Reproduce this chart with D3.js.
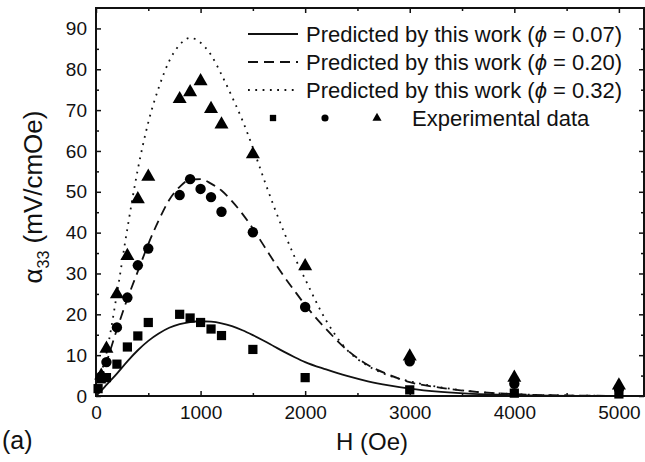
<!DOCTYPE html>
<html>
<head>
<meta charset="utf-8">
<script src="https://cdn.jsdelivr.net/npm/d3@7"></script>
<style>
  body { margin: 0; background: #fff; }
  text { font-family: "Liberation Sans", Arial, sans-serif; fill: #111; }
</style>
</head>
<body>
<div id="chart"></div>
<script>
// data
const fieldH = [50, 100, 200, 300, 400, 500, 800, 900, 1000, 1100, 1200, 1500, 2000, 3000, 4000, 5000];
const expSquare = [4.2, 4.5, 7.8, 12.0, 14.7, 18.0, 20.0, 19.1, 18.0, 16.4, 14.8, 11.4, 4.5, 1.5, 0.7, 0.5];
const expCircle = [4.8, 8.3, 16.8, 24.1, 32.0, 36.1, 49.2, 53.1, 50.7, 48.7, 45.1, 40.1, 21.8, 8.5, 3.0, 1.8];
const expTriangle = [5.0, 11.6, 24.9, 34.3, 48.2, 53.7, 72.7, 74.4, 77.1, 70.3, 66.5, 59.2, 31.8, 9.7, 4.5, 2.6];
const extraSquareH = [20];
const extraSquare = [1.8];

const curveH = [0, 50, 100, 200, 300, 400, 500, 600, 700, 800, 900, 1000, 1100, 1200, 1300, 1400, 1500, 1600, 1700, 1800, 1900, 2000, 2200, 2400, 2600, 2800, 3000, 3300, 3600, 4000, 4500, 5000, 5240];
const pred007 = [0, 1.3, 2.7, 5.5, 8.5, 11.2, 13.5, 15.3, 16.7, 17.6, 18.1, 18.3, 18.2, 17.8, 17.1, 16.1, 14.9, 13.6, 12.2, 10.8, 9.5, 8.3, 6.5, 4.9, 3.6, 2.6, 1.8, 1.0, 0.5, 0.2, 0.05, 0.01, 0];
const pred020 = [0, 4.2, 8.2, 16.3, 23.8, 30.5, 37.2, 43, 48, 51.2, 53, 53.1, 52, 50.3, 47.7, 44.6, 41, 37, 33, 29.2, 25.7, 22.3, 16.4, 11.3, 7.6, 5.2, 3.4, 2.0, 1.1, 0.45, 0.12, 0.03, 0];
const pred032 = [0, 5.5, 10.5, 25, 41, 55.5, 67, 75.5, 82, 86, 87.7, 86.5, 83.5, 78.7, 73.3, 67.5, 60.8, 53.5, 46.5, 40, 34, 28.6, 18.5, 11.3, 7.4, 5, 3.6, 2.1, 1.1, 0.45, 0.12, 0.03, 0];

const xTicks = [0, 1000, 2000, 3000, 4000, 5000];
const yTicks = [0, 10, 20, 30, 40, 50, 60, 70, 80, 90];
const legendLabels = ['0.07', '0.20', '0.32'];

const W = 645, Hgt = 462;
const margin = {top: 8, right: 1, bottom: 66, left: 96},
    width = W - margin.left - margin.right,
    height = Hgt - margin.top - margin.bottom;

const svg = d3.select('#chart').append('svg')
    .attr('width', W).attr('height', Hgt)
  .append('g')
    .attr('transform', `translate(${margin.left},${margin.top})`);

const x = d3.scaleLinear().domain([0, 5240]).range([0, width]);
const y = d3.scaleLinear().domain([0, 95]).range([height, 0]);

// ticks, all pointing inward
function ticks(axis, vals, len) {
  return axis.tickValues(vals).tickSizeInner(-len).tickSizeOuter(0);
}
const xMinor = d3.range(500, 5240, 1000);
const yMinor = d3.range(5, 95, 10);

svg.append('g').attr('transform', `translate(0,${height})`)
  .call(ticks(d3.axisBottom(x), xTicks, 5).tickPadding(10).tickFormat(d3.format('d')));
svg.append('g').attr('transform', `translate(0,${height})`)
  .call(ticks(d3.axisBottom(x), xMinor, 3).tickFormat(''));
svg.append('g').call(ticks(d3.axisTop(x), xTicks, 5).tickFormat(''));
svg.append('g').call(ticks(d3.axisTop(x), xMinor, 3).tickFormat(''));

svg.append('g').call(ticks(d3.axisLeft(y), yTicks, 5).tickPadding(9));
svg.append('g').call(ticks(d3.axisLeft(y), yMinor, 3).tickFormat(''));
svg.append('g').attr('transform', `translate(${width},0)`)
  .call(ticks(d3.axisRight(y), yTicks, 5).tickFormat(''));
svg.append('g').attr('transform', `translate(${width},0)`)
  .call(ticks(d3.axisRight(y), yMinor, 3).tickFormat(''));

svg.selectAll('.domain').remove();
svg.selectAll('.tick line').attr('stroke', '#111').attr('stroke-width', 1.5);
svg.selectAll('.tick text').attr('font-size', 19).attr('fill', '#111')
  .style('font-family', '"Liberation Sans", Arial, sans-serif');

svg.append('rect')
  .attr('width', width).attr('height', height)
  .attr('fill', 'none').attr('stroke', '#111').attr('stroke-width', 2);

// predicted curves
const line = d3.line()
  .x(d => x(d[0])).y(d => y(d[1]))
  .curve(d3.curveMonotoneX);
const curves = [
  {vals: pred007, dash: null},
  {vals: pred020, dash: '10,6'},
  {vals: pred032, dash: '1.8,5.5'}
];
curves.forEach(c => {
  svg.append('path')
    .datum(curveH.map((h, i) => [h, c.vals[i]]))
    .attr('d', line)
    .attr('fill', 'none')
    .attr('stroke', '#111')
    .attr('stroke-width', 1.8)
    .attr('stroke-dasharray', c.dash);
});

// markers
const sq = d3.symbol().type(d3.symbolSquare).size(85);
const ci = d3.symbol().type(d3.symbolCircle).size(85);
const tr = d3.symbol().type(d3.symbolTriangle).size(85);

const pts = [];
fieldH.forEach((h, i) => {
  pts.push({h, v: expSquare[i], s: sq});
  pts.push({h, v: expCircle[i], s: ci});
  pts.push({h, v: expTriangle[i], s: tr});
});
extraSquareH.forEach((h, i) => pts.push({h, v: extraSquare[i], s: sq}));

svg.selectAll('.pt').data(pts).enter().append('path')
  .attr('class', 'pt')
  .attr('transform', d => `translate(${x(d.h)},${y(d.v)})`)
  .attr('d', d => d.s())
  .attr('fill', '#000');

// legend
const lg = svg.append('g').attr('transform', 'translate(152,26)');
legendLabels.forEach((lab, i) => {
  const yy = i * 28;
  lg.append('line')
    .attr('x1', 0).attr('x2', 50).attr('y1', yy).attr('y2', yy)
    .attr('stroke', '#111').attr('stroke-width', 1.8)
    .attr('stroke-dasharray', curves[i].dash);
  const t = lg.append('text').attr('x', 58).attr('y', yy + 7.5)
    .attr('font-size', 22);
  t.append('tspan').text('Predicted by this work (');
  t.append('tspan').attr('font-style', 'italic').text('\u03D5');
  t.append('tspan').text(' = ' + lab + ')');
});
const ly = 3 * 28;
lg.append('path').attr('transform', `translate(25,${ly})`).attr('d', d3.symbol().type(d3.symbolSquare).size(40)()).attr('fill', '#000');
lg.append('path').attr('transform', `translate(77,${ly})`).attr('d', d3.symbol().type(d3.symbolCircle).size(40)()).attr('fill', '#000');
lg.append('path').attr('transform', `translate(129,${ly})`).attr('d', d3.symbol().type(d3.symbolTriangle).size(36)()).attr('fill', '#000');
lg.append('text').attr('x', 164).attr('y', ly + 7.5).attr('font-size', 22).text('Experimental data');

// axis titles
svg.append('text')
  .attr('text-anchor', 'middle')
  .attr('x', 276).attr('y', height + 54)
  .attr('font-size', 24)
  .text('H (Oe)');

const yt = svg.append('text')
  .attr('text-anchor', 'middle')
  .attr('transform', `translate(${-54},${height / 2 - 5}) rotate(-90)`)
  .attr('font-size', 26);
yt.append('tspan').text('\u03B1');
yt.append('tspan').attr('font-size', 16).attr('dy', 7).text('33');
yt.append('tspan').attr('dy', -7).text(' (mV/cmOe)');

svg.append('text')
  .attr('x', -94).attr('y', height + 53)
  .attr('font-size', 25)
  .text('(a)');
</script>
</body>
</html>
